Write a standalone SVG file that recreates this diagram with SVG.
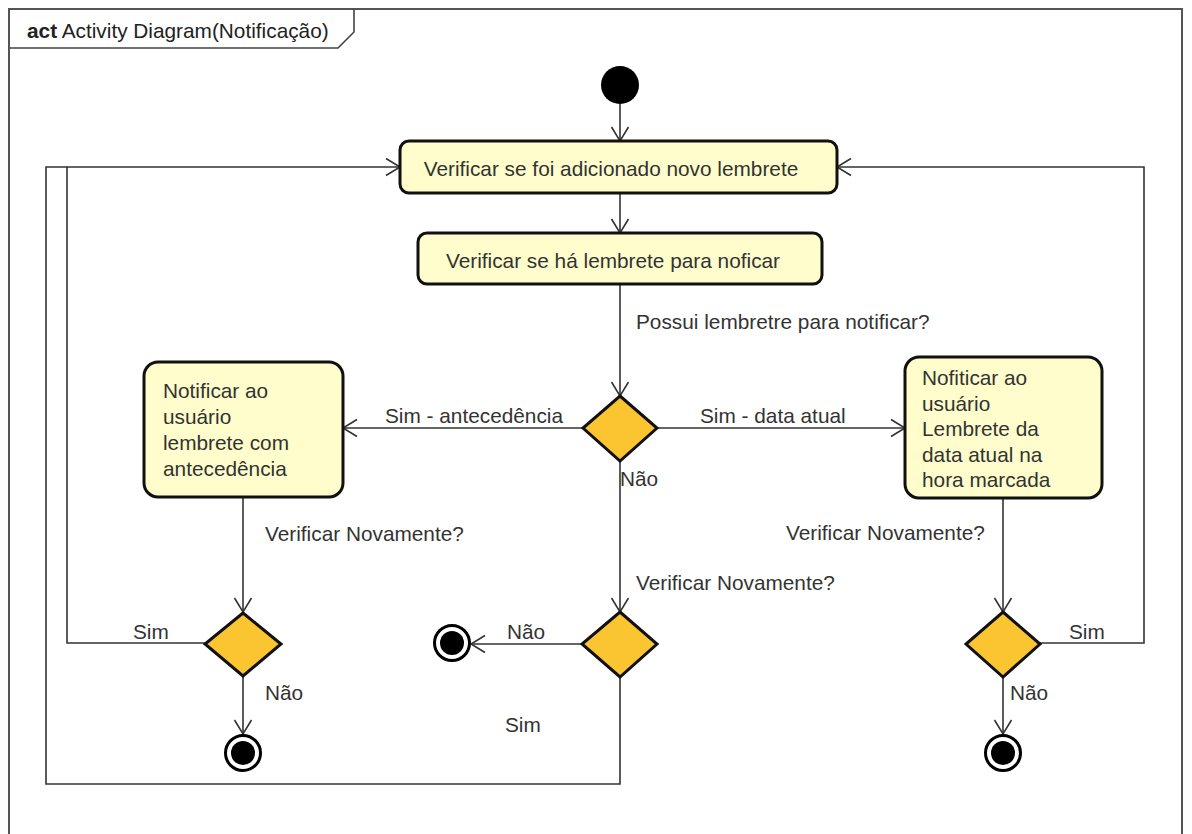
<svg xmlns="http://www.w3.org/2000/svg" width="1192" height="834" viewBox="0 0 1192 834">
<style>
.t{font-family:"Liberation Sans",Arial,sans-serif;font-size:20.8px;fill:#333}
.act{fill:#FEFDCB;stroke:#111;stroke-width:3}
.dec{fill:#FBC531;stroke:#111;stroke-width:3}
.c{fill:none;stroke:#333;stroke-width:1.6}
</style>
<defs>
<marker id="a" markerUnits="userSpaceOnUse" markerWidth="20" markerHeight="20" viewBox="-1 -10 16 20" refX="14" refY="0" orient="auto">
<path d="M0,-8.5 L14,0 L0,8.5" fill="none" stroke="#333" stroke-width="1.6"/>
</marker>
</defs>
<rect width="1192" height="834" fill="#fff"/>
<g id="frame">
<path d="M9,840 L9,9 L1182,9 L1182,840" fill="none" stroke="#555" stroke-width="2"/>
<path d="M9,48 L338,48 L354,32 L354,9" fill="none" stroke="#444" stroke-width="1.6"/>
<text x="27" y="38" class="t" style="font-size:20.8px;fill:#222"><tspan font-weight="bold">act</tspan> Activity Diagram(Notificação)</text>
</g>
<g id="connectors">
<path class="c" d="M620,104 L620,141" marker-end="url(#a)"/>
<path class="c" d="M620,193 L620,233" marker-end="url(#a)"/>
<path class="c" d="M620,284 L620,396" marker-end="url(#a)"/>
<path class="c" d="M583,428 L343,428" marker-end="url(#a)"/>
<path class="c" d="M657,428 L905,428" marker-end="url(#a)"/>
<path class="c" d="M620,461 L620,612" marker-end="url(#a)"/>
<path class="c" d="M243,497 L243,612" marker-end="url(#a)"/>
<path class="c" d="M1003,498 L1003,612" marker-end="url(#a)"/>
<path class="c" d="M206,643 L67,643 L67,167 L400,167" marker-end="url(#a)"/>
<path class="c" d="M620,677 L620,784 L46,784 L46,167 L67,167"/>
<path class="c" d="M1040,643 L1144,643 L1144,167 L837,167" marker-end="url(#a)"/>
<path class="c" d="M582,644 L471,644" marker-end="url(#a)"/>
<path class="c" d="M243,676 L243,734" marker-end="url(#a)"/>
<path class="c" d="M1003,677 L1003,734" marker-end="url(#a)"/>
<text class="t" x="636" y="329">Possui lembretre para notificar?</text>
<text class="t" x="385" y="423">Sim - antecedência</text>
<text class="t" x="700" y="423">Sim - data atual</text>
<text class="t" x="620" y="486">Não</text>
<text class="t" x="265" y="541">Verificar Novamente?</text>
<text class="t" x="636" y="590">Verificar Novamente?</text>
<text class="t" x="786" y="540">Verificar Novamente?</text>
<text class="t" x="133" y="639">Sim</text>
<text class="t" x="507" y="639">Não</text>
<text class="t" x="1069" y="639">Sim</text>
<text class="t" x="265" y="700">Não</text>
<text class="t" x="1010" y="700">Não</text>
<text class="t" x="505" y="732">Sim</text>
</g>
<g id="initial"><circle cx="620" cy="85" r="19" fill="#000"/></g>
<g id="verificar-novo">
<rect class="act" x="400" y="141" width="437" height="52" rx="9"/>
<text class="t" x="611" y="176" text-anchor="middle">Verificar se foi adicionado novo lembrete</text>
</g>
<g id="verificar-notificar">
<rect class="act" x="418" y="233" width="404" height="51" rx="9"/>
<text class="t" x="613" y="268" text-anchor="middle">Verificar se há lembrete para noficar</text>
</g>
<g id="decisao-possui"><path class="dec" d="M620,396 L657,428 L620,461 L583,428 Z"/></g>
<g id="notificar-antecedencia">
<rect class="act" x="144" y="362" width="199" height="135" rx="14"/>
<text class="t" x="163" y="398">Notificar ao</text>
<text class="t" x="163" y="424">usuário</text>
<text class="t" x="163" y="450">lembrete com</text>
<text class="t" x="163" y="476">antecedência</text>
</g>
<g id="notificar-data-atual">
<rect class="act" x="905" y="357" width="197" height="141" rx="14"/>
<text class="t" x="922" y="385">Nofiticar ao</text>
<text class="t" x="922" y="411">usuário</text>
<text class="t" x="922" y="436">Lembrete da</text>
<text class="t" x="922" y="462">data atual na</text>
<text class="t" x="922" y="487">hora marcada</text>
</g>
<g id="decisao-esq"><path class="dec" d="M243,613 L281,644 L243,676 L205,644 Z"/></g>
<g id="decisao-meio"><path class="dec" d="M620,612 L657,644 L620,677 L582,644 Z"/></g>
<g id="decisao-dir"><path class="dec" d="M1003,612 L1040,644 L1003,677 L966,644 Z"/></g>
<g id="fim-esq"><circle cx="243" cy="753" r="17.5" fill="#fff" stroke="#000" stroke-width="3"/><circle cx="243" cy="753" r="12" fill="#000"/></g>
<g id="fim-meio"><circle cx="452" cy="643" r="17.5" fill="#fff" stroke="#000" stroke-width="3"/><circle cx="452" cy="643" r="12" fill="#000"/></g>
<g id="fim-dir"><circle cx="1003" cy="753" r="17.5" fill="#fff" stroke="#000" stroke-width="3"/><circle cx="1003" cy="753" r="12" fill="#000"/></g>
</svg>
